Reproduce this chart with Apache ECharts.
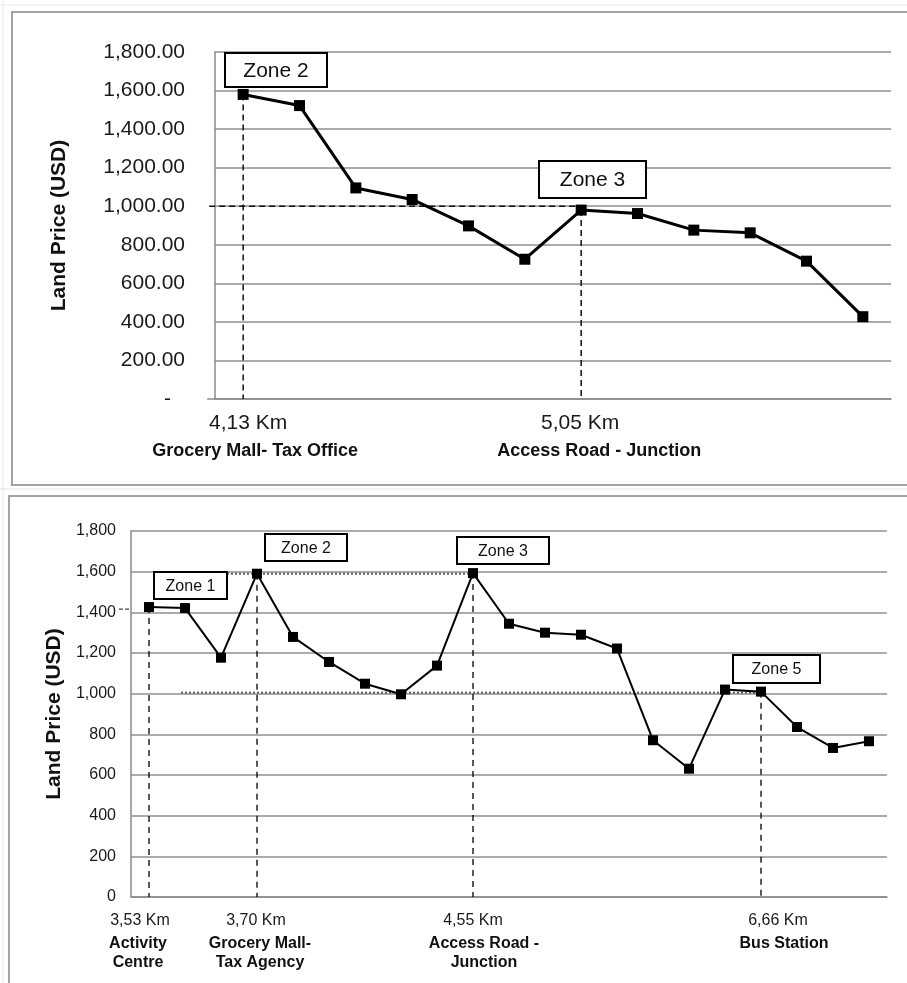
<!DOCTYPE html>
<html><head><meta charset="utf-8">
<script src="https://cdn.jsdelivr.net/npm/echarts@6/dist/echarts.min.js"></script>
<style>html,body{margin:0;padding:0;background:#fff}#c{width:907px;height:983px}</style>
</head><body><div id="c"></div>
<script>
// ---------- data ----------
const topPrices = [1580, 1522, 1095, 1035, 898, 725, 980, 962, 876, 862, 715, 427];
const topKm = ['4,13 Km', '', '', '', '', '', '5,05 Km', '', '', '', '', ''];
const topPlace = ['Grocery Mall- Tax Office', '', '', '', '', '', 'Access Road - Junction', '', '', '', '', ''];
const topZoneNames = ['Zone 2', 'Zone 3'];
const topZoneIdx = [0, 6];
const topGuideLevel = 1000;

const bottomPrices = [1426, 1421, 1177, 1590, 1279, 1156, 1049, 997, 1138, 1593, 1344, 1300, 1290, 1222, 771, 631, 1020, 1010, 836, 733, 766];
const bottomKm = ['3,53 Km', '', '', '3,70 Km', '', '', '', '', '', '4,55 Km', '', '', '', '', '', '', '', '6,66 Km', '', '', ''];
const bottomPlace = ['Activity\nCentre', '', '', 'Grocery Mall-\nTax Agency', '', '', '', '', '', 'Access Road -\nJunction', '', '', '', '', '', '', '', 'Bus Station', '', '', ''];
const bottomZoneNames = ['Zone 1', 'Zone 2', 'Zone 3', 'Zone 5'];
const bottomZoneIdx = [0, 3, 9, 17];
const bottomGuideHigh = 1590;
const bottomGuideLow = 1005;

const topYTicks = { min: 0, max: 1800, step: 200 };
const bottomYTicks = { min: 0, max: 1800, step: 200 };

const topCategories = topPrices.map((_, i) => 'A' + (i + 1));
const bottomCategories = bottomPrices.map((_, i) => 'B' + (i + 1));

// ---------- styles ----------
const FONT = '"Liberation Sans", Arial, sans-serif';
const topShift = { 0: [5, 12], 6: [-1, 18] };
const bottomShift = { 0: [-9, -11], 3: [-1, 3], 9: [0, 11], 17: [17, 23] };
function pad(d) { return d >= 0 ? [0, 0, 0, 2 * d] : [0, -2 * d, 0, 0]; }

function buildRich(kms, places, shifts, kmSize, plSize, kmLH, plLH) {
  const rich = {};
  kms.forEach((k, i) => {
    if (!k) return;
    const s = shifts[i] || [0, 0];
    rich['k' + i] = { fontFamily: FONT, fontSize: kmSize, color: '#1a1a1a', lineHeight: kmLH, align: 'center', padding: pad(s[0]) };
    rich['p' + i] = { fontFamily: FONT, fontSize: plSize, fontWeight: 'bold', color: '#111', lineHeight: plLH, align: 'center', padding: pad(s[1]) };
  });
  return rich;
}
function labelFmt(kms, places) {
  return function (value, index) {
    if (!kms[index]) return '';
    const lines = places[index].split('\n').map(l => '{p' + index + '|' + l + '}');
    return '{k' + index + '|' + kms[index] + '}\n' + lines.join('\n');
  };
}

const gridLineStyle = { color: '#8f8f8f', width: 1.5 };
const axisLineStyle = { color: '#8a8a8a', width: 1.5 };

const chart = echarts.init(document.getElementById('c'));
chart.setOption({
  animation: false,
  backgroundColor: '#fff',
  grid: [
    { left: 215, top: 52, width: 676, height: 347 },
    { left: 131, top: 531, width: 756, height: 366 }
  ],
  xAxis: [
    {
      type: 'category', gridIndex: 0, data: topCategories, boundaryGap: true,
      axisLine: { lineStyle: axisLineStyle }, axisTick: { show: false },
      axisLabel: { interval: 0, margin: 11, formatter: labelFmt(topKm, topPlace),
        rich: buildRich(topKm, topPlace, topShift, 21, 18, 26, 30) }
    },
    {
      type: 'category', gridIndex: 1, data: bottomCategories, boundaryGap: true,
      axisLine: { lineStyle: axisLineStyle }, axisTick: { show: false },
      axisLabel: { interval: 0, margin: 11, formatter: labelFmt(bottomKm, bottomPlace),
        rich: buildRich(bottomKm, bottomPlace, bottomShift, 16, 16, 26, 19) }
    }
  ],
  yAxis: [
    {
      type: 'value', gridIndex: 0, min: topYTicks.min, max: topYTicks.max, interval: topYTicks.step,
      name: 'Land Price (USD)', nameLocation: 'middle', nameGap: 145,
      nameTextStyle: { fontFamily: FONT, fontSize: 21, fontWeight: 'bold', color: '#111' },
      axisLine: { show: true, lineStyle: axisLineStyle }, axisTick: { show: false },
      splitLine: { lineStyle: gridLineStyle },
      axisLabel: {
        margin: 30, fontFamily: FONT, fontSize: 21, color: '#1a1a1a',
        formatter: v => v === 0 ? '{d|-}' : v.toLocaleString('en-US', { minimumFractionDigits: 2, maximumFractionDigits: 2 }),
        rich: { d: { fontFamily: FONT, fontSize: 21, color: '#1a1a1a', padding: [0, 14, 0, 0] } }
      }
    },
    {
      type: 'value', gridIndex: 1, min: bottomYTicks.min, max: bottomYTicks.max, interval: bottomYTicks.step,
      name: 'Land Price (USD)', nameLocation: 'middle', nameGap: 66,
      nameTextStyle: { fontFamily: FONT, fontSize: 21, fontWeight: 'bold', color: '#111' },
      axisLine: { show: true, lineStyle: axisLineStyle }, axisTick: { show: false },
      splitLine: { lineStyle: gridLineStyle },
      axisLabel: {
        margin: 15, fontFamily: FONT, fontSize: 16, color: '#1a1a1a',
        formatter: v => v.toLocaleString('en-US')
      }
    }
  ],
  series: [
    {
      type: 'line', xAxisIndex: 0, yAxisIndex: 0, data: topPrices,
      symbol: 'rect', symbolSize: 11, z: 5,
      lineStyle: { color: '#000', width: 3 }, itemStyle: { color: '#000' }
    },
    {
      type: 'line', xAxisIndex: 1, yAxisIndex: 1, data: bottomPrices,
      symbol: 'rect', symbolSize: 10, z: 5,
      lineStyle: { color: '#000', width: 2 }, itemStyle: { color: '#000' }
    }
  ]
});

// ---------- annotations (positions derived from the axes) ----------
const px = (g, i, v) => chart.convertToPixel({ gridIndex: g }, [i, v]);
const graphics = [];
function line(p1, p2, style, z) {
  graphics.push({ type: 'line', z: z || 3, shape: { x1: p1[0], y1: p1[1], x2: p2[0], y2: p2[1] }, style: Object.assign({ fill: null }, style) });
}
const darkDash = { stroke: '#111', lineWidth: 1.5, lineDash: [6, 4] };
const thinDash = { stroke: '#000', lineWidth: 1.3, lineDash: [6, 5] };
const grayDot = { stroke: '#5e5e5e', lineWidth: 2, lineDash: [2, 2] };

// top chart guides
topZoneIdx.forEach(i => line(px(0, i, topPrices[i]), px(0, i, 0), darkDash));
{
  const end = px(0, topZoneIdx[1], topGuideLevel);
  const axisX = px(0, 0, 0)[0] - 28;
  line([axisX - 6, end[1]], end, darkDash);
}
// bottom chart guides
bottomZoneIdx.forEach(i => line(px(1, i, bottomPrices[i]), px(1, i, 0), thinDash));
{
  const a = px(1, bottomZoneIdx[1], bottomGuideHigh), b = px(1, bottomZoneIdx[2], bottomGuideHigh);
  line([a[0] - 30, a[1]], b, grayDot);
  const c = px(1, 1, bottomGuideLow), d = px(1, bottomZoneIdx[3], bottomGuideLow);
  line([c[0] - 4, c[1]], d, grayDot);
  const p0 = px(1, 0, bottomPrices[0]);
  const ax = p0[0] - 18;
  line([ax - 12, p0[1] + 2], [ax, p0[1] + 2], { stroke: '#444', lineWidth: 1.2, lineDash: [4, 2] });
}

// zone boxes
function zoneBox(x, y, w, h, text, size) {
  graphics.push({
    type: 'group', z: 20, children: [
      { type: 'rect', z: 20, shape: { x: x, y: y, width: w, height: h }, style: { fill: '#fff', stroke: '#000', lineWidth: 2 } },
      { type: 'text', z: 21, style: { x: x + w / 2, y: y + h / 2 + 1, text: text, fill: '#111', font: size + 'px ' + FONT, textAlign: 'center', textVerticalAlign: 'middle' } }
    ]
  });
}
zoneBox(225, 53, 102, 34, topZoneNames[0], 21);
zoneBox(539, 161, 107, 37, topZoneNames[1], 21);
zoneBox(154, 572, 73, 27, bottomZoneNames[0], 16);
zoneBox(265, 534, 82, 27, bottomZoneNames[1], 16);
zoneBox(457, 537, 92, 27, bottomZoneNames[2], 16);
zoneBox(733, 655, 87, 28, bottomZoneNames[3], 16);

// sheet frames
const frame = { fill: null, stroke: '#a3a3a3', lineWidth: 2 };
graphics.push({ type: 'rect', z: 1, shape: { x: 12, y: 12, width: 920, height: 473 }, style: frame });
graphics.push({ type: 'rect', z: 1, shape: { x: 9, y: 496, width: 920, height: 500 }, style: frame });
graphics.push({ type: 'line', z: 1, shape: { x1: 0, y1: 489, x2: 907, y2: 489 }, style: { stroke: '#dfe3ec', lineWidth: 1 } });
graphics.push({ type: 'line', z: 1, shape: { x1: 0, y1: 5, x2: 907, y2: 5 }, style: { stroke: '#e6e9f0', lineWidth: 1 } });
graphics.push({ type: 'line', z: 1, shape: { x1: 3, y1: 0, x2: 3, y2: 983 }, style: { stroke: '#e6e9f0', lineWidth: 1 } });
// top x axis line extends slightly left of the value axis, as in the sheet
{
  const o = px(0, 0, 0);
  line([o[0] - 36, o[1]], [o[0] - 28, o[1]], { stroke: '#8a8a8a', lineWidth: 1.5 });
}

chart.setOption({ graphic: graphics });
</script>
</body></html>
